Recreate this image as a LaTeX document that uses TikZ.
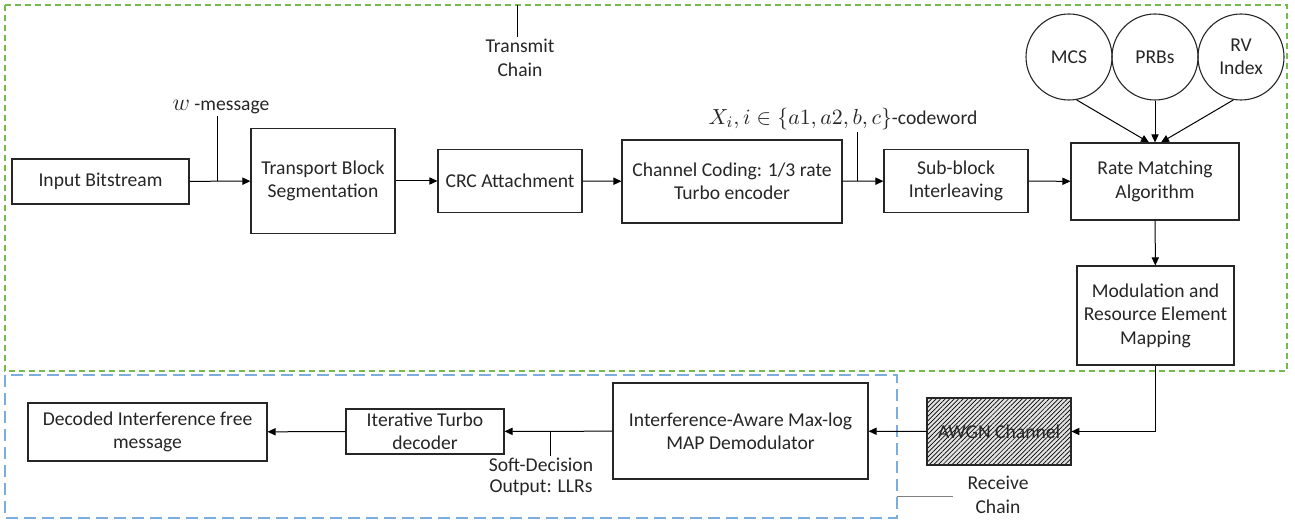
\documentclass[tikz,border=0pt]{standalone}
\usepackage{fontspec}
\setmainfont{Carlito}
\usepackage{amsmath}
\usetikzlibrary{arrows.meta, positioning, calc, patterns.meta}

\definecolor{txgreen}{RGB}{118,186,78}
\definecolor{rxblue}{RGB}{125,172,222}

\begin{document}
\begin{tikzpicture}[
        x=0.5bp, y=-0.5bp,
        font=\fontsize{9.8bp}{11.7bp}\selectfont,
        block/.style={draw=black!85, line width=0.55bp, align=center, inner sep=1bp, text=black!85},
        param/.style={circle, draw=black!85, line width=0.55bp, minimum size=43bp, inner sep=0pt, align=center, text=black!85},
        flow/.style={-{Triangle[length=4bp, width=3.6bp]}, line width=0.5bp},
        tap/.style={line width=0.5bp},
        tx_frame/.style={draw=txgreen, dash pattern=on 3bp off 2bp, line width=0.6bp},
        rx_frame/.style={draw=rxblue, dash pattern=on 6bp off 3bp, line width=0.8bp},
        label_text/.style={align=center, inner sep=1bp, text=black!85}
    ]
    \useasboundingbox (0,0) rectangle (1295,525);

    % --- Frames ---
    \draw[tx_frame] (5,5) rectangle (1287,371);
    \draw[rx_frame] (5,375) rectangle (897,518);

    % --- Transmit chain ---
    \node[block, minimum width=88.5bp, minimum height=22.5bp] (inp) at (100.5,181.5) {Input Bitstream};
    \node[block, minimum width=72bp, minimum height=52.5bp] (tbs) at (323,181) {Transport Block\\Segmentation};
    \node[block, minimum width=72bp, minimum height=31.5bp] (crc) at (510,181) {CRC Attachment};
    \node[block, minimum width=110bp, minimum height=41.5bp] (chc) at (732,181.5) {Channel Coding: 1/3 rate\\Turbo encoder};
    \node[block, minimum width=72bp, minimum height=31.5bp] (sbi) at (956,181) {Sub-block\\Interleaving};
    \node[block, minimum width=84bp, minimum height=38.5bp] (rma) at (1155,181.5) {Rate Matching\\Algorithm};
    \node[block, minimum width=78.5bp, minimum height=49.5bp] (mod) at (1155.5,315.5) {Modulation and\\Resource Element\\Mapping};

    % Parameters of the rate matching
    \node[param] (mcs) at (1069,57) {MCS};
    \node[param] (prb) at (1155,57) {PRBs};
    \node[param] (rvi) at (1241,57) {RV\\Index};

    % --- Channel ---
    \node[block, minimum width=72bp, minimum height=33.5bp, preaction={fill=gray!22},
          pattern={Lines[angle=45, distance=1.6bp, line width=0.35bp]}] (awgn) at (999,431.5) {AWGN Channel};

    % --- Receive chain ---
    \node[block, minimum width=127.5bp, minimum height=48bp] (ima) at (740.5,431) {Interference-Aware Max-log\\MAP Demodulator};
    \node[block, minimum width=79bp, minimum height=22.5bp] (itd) at (425,431.5) {Iterative Turbo\\decoder};
    \node[block, minimum width=119.5bp, minimum height=29bp] (dec) at (147.5,432) {Decoded Interference free\\message};

    % --- Labels ---
    \node[label_text] (tx_lbl) at (520,58) {Transmit\\Chain};
    \node[label_text] (w_lbl) at (221,107) {{\fontsize{12bp}{14bp}\selectfont$w$} -message};
    \node[label_text] (x_lbl) at (843,119) {{\fontsize{11bp}{13bp}\selectfont$X_i, i \in \{a1, a2, b, c\}$}-codeword};
    \node[label_text, font=\fontsize{9.8bp}{10.4bp}\selectfont] (s_lbl) at (541,477) {Soft-Decision\\Output: LLRs};
    \node[label_text] (rx_lbl) at (998,495) {Receive\\Chain};

    \coordinate (tx_top) at (517,5);
    \coordinate (w_tap) at (217,181.5);
    \coordinate (x_tap) at (857,181.5);
    \coordinate (s_tap) at (550,432);
    \coordinate (rx_tap) at (897,496);

    % --- Connectors ---
    \draw[flow] (inp) -- (tbs);
    \draw[flow] (tbs) -- (crc);
    \draw[flow] (crc) -- (chc);
    \draw[flow] (chc) -- (sbi);
    \draw[flow] (sbi) -- (rma);
    \draw[flow] (mcs.-80) -- ([xshift=-3bp]rma.north);
    \draw[flow] (prb) -- (rma.north);
    \draw[flow] (rvi.-100) -- ([xshift=3bp]rma.north);
    \draw[flow] (rma) -- (mod);
    \draw[flow] (mod.south) |- (awgn.east);
    \draw[flow] (awgn) -- (ima);
    \draw[flow] (ima) -- (itd);
    \draw[flow] (itd) -- (dec);

    % taps to the labels
    \draw[tap] (tx_top) -- (tx_top |- tx_lbl.north);
    \draw[tap] (w_tap) -- (w_tap |- w_lbl.south);
    \draw[tap] (x_tap) -- (x_tap |- x_lbl.south);
    \draw[tap] (s_tap) -- (s_tap |- s_lbl.north);
    \draw[tap, gray] (rx_tap) -- ($(rx_lbl.west |- rx_tap)+(-12,0)$);

\end{tikzpicture}
\end{document}
